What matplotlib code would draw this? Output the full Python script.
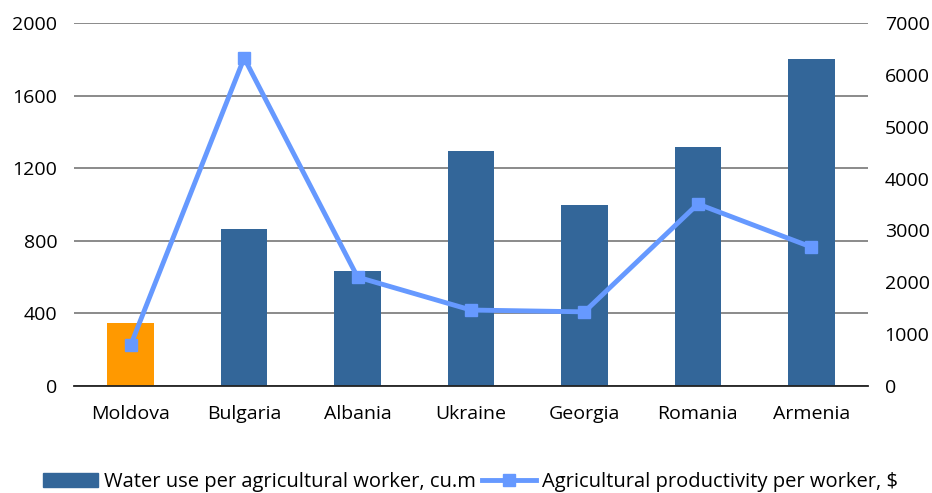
import matplotlib
matplotlib.use('Agg')
import matplotlib.pyplot as plt
from matplotlib.lines import Line2D
from matplotlib.patches import Patch

countries = ['Moldova', 'Bulgaria', 'Albania', 'Ukraine', 'Georgia', 'Romania', 'Armenia']
water_use = [345, 865, 634, 1295, 997, 1317, 1802]
productivity = [790, 6325, 2100, 1465, 1430, 3510, 2680]
left_ticks = [0, 400, 800, 1200, 1600, 2000]
right_ticks = [0, 1000, 2000, 3000, 4000, 5000, 6000, 7000]

bar_color = '#336699'
moldova_color = '#FF9900'
line_color = '#6699FF'

plt.rcParams['font.family'] = ['Open Sans', 'DejaVu Sans']

fig = plt.figure(figsize=(9.32, 4.93), dpi=100)
ax = fig.add_axes([74 / 932, 1 - 386 / 493, 794 / 932, 363 / 493])
x = list(range(len(countries)))
colors = [moldova_color] + [bar_color] * (len(countries) - 1)
ax.bar(x, water_use, width=0.41, color=colors, zorder=2)
ax.set_ylim(0, 2000)
ax.set_xlim(-0.5, len(countries) - 0.5)
ax.set_yticks(left_ticks)
ax.set_xticks(x)
ax.set_xticklabels(countries)
ax.grid(axis='y', color='#777777', linewidth=1.2, zorder=0)
ax.set_axisbelow(True)
for s in ['top', 'right', 'left']:
    ax.spines[s].set_visible(False)
ax.spines['bottom'].set_color('#222222')
ax.spines['bottom'].set_linewidth(1.3)
ax.tick_params(length=0, labelsize=14)
ax.tick_params(axis='x', pad=14)
ax.tick_params(axis='y', pad=12)

ax2 = ax.twinx()
ax2.plot(x, productivity, color=line_color, linewidth=3.5, marker='s',
         markersize=9, zorder=3)
ax2.set_ylim(0, 7000)
ax2.set_yticks(right_ticks)
for s in ['top', 'right', 'left', 'bottom']:
    ax2.spines[s].set_visible(False)
ax2.tick_params(length=0, labelsize=14, pad=12)

handles = [Patch(color=bar_color),
           Line2D([], [], color=line_color, linewidth=3.5, marker='s', markersize=9)]
labels = ['Water use per agricultural worker, cu.m', 'Agricultural productivity per worker, $']
fig.legend(handles, labels, loc='center', bbox_to_anchor=(0.505, 0.022), ncol=2,
           frameon=False, fontsize=14.5, handlelength=2.7, columnspacing=0.3,
           handletextpad=0.3)

fig.savefig('out.png', dpi=100)
